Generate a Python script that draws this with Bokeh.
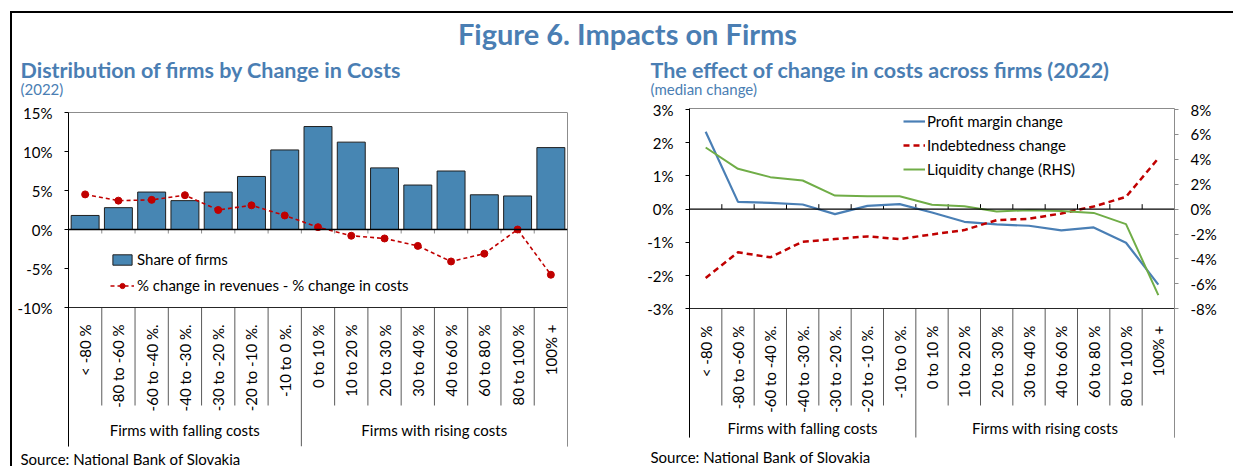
import math
from bokeh.plotting import figure
from bokeh.models import (ColumnDataSource, Range1d, LinearAxis, FixedTicker,
                          Legend, LegendItem, Label, Span)
from bokeh.layouts import column, row
from bokeh.embed import file_html
from bokeh.resources import INLINE
from bokeh.core.properties import value

# ---------------- data ----------------
categories = ["< -80 %", "-80 to -60 %", "-60 to -40 %.", "-40 to -30 %.", "-30 to -20 %.",
              "-20 to -10 %.", "-10 to 0 %.", "0 to 10 %", "10 to 20 %", "20 to 30 %",
              "30 to 40 %", "40 to 60 %", "60 to 80 %", "80 to 100 %", "100% +"]
groups = ["Firms with falling costs", "Firms with rising costs"]
group_sizes = [7, 8]

share_of_firms = [1.8, 2.8, 4.8, 3.7, 4.8, 6.8, 10.2, 13.2, 11.2, 7.9, 5.7, 7.5, 4.45, 4.3, 10.5]
rev_minus_cost = [4.5, 3.7, 3.8, 4.4, 2.5, 3.1, 1.8, 0.3, -0.8, -1.15, -2.1, -4.1, -3.1, 0.0, -5.8]

profit_margin = [2.33, 0.22, 0.19, 0.14, -0.15, 0.10, 0.15, -0.10, -0.38, -0.46, -0.50, -0.64, -0.55, -1.01, -2.27]
indebtedness = [-2.07, -1.30, -1.45, -0.98, -0.90, -0.82, -0.90, -0.76, -0.63, -0.33, -0.29, -0.13, 0.08, 0.37, 1.53]
liquidity = [4.95, 3.24, 2.57, 2.30, 1.09, 1.04, 1.04, 0.35, 0.24, -0.19, -0.08, -0.14, -0.30, -1.20, -6.90]

left_ticks = [-10, -5, 0, 5, 10, 15]
left_tick_labels = ["-10%", "-5%", "0%", "5%", "10%", "15%"]
right_ticks = [-3, -2, -1, 0, 1, 2, 3]
right_tick_labels = ["-3%", "-2%", "-1%", "0%", "1%", "2%", "3%"]
rhs_ticks = [-8, -6, -4, -2, 0, 2, 4, 6, 8]
rhs_tick_labels = ["-8%", "-6%", "-4%", "-2%", "0%", "2%", "4%", "6%", "8%"]

main_title = "Figure 6. Impacts on Firms"
left_title = "Distribution of firms by Change in Costs"
left_subtitle = "(2022)"
right_title = "The effect of change in costs across firms (2022)"
right_subtitle = "(median change)"
source_text = "Source: National Bank of Slovakia"
left_legend = ["Share of firms", "% change in revenues - % change in costs"]
right_legend = ["Profit margin change", "Indebtedness change", "Liquidity change (RHS)"]

# ---------------- style ----------------
FONT = "Lato"
TITLE_BLUE = "#4a7eb3"
BAR_BLUE = "#4786b3"
RED = "#c00000"
LINE_BLUE = "#4a7fb5"
GREEN = "#70ad47"
GRAY = "#8c8c8c"
SEP = "#5a5a5a"

n = len(categories)
bounds = list(range(n + 1))
group_edges = [0]
for s in group_sizes:
    group_edges.append(group_edges[-1] + s)
group_centers = [(a + b) / 2 for a, b in zip(group_edges[:-1], group_edges[1:])]
inner_bounds = [b for b in bounds if b not in group_edges]
tick_bounds = bounds[1:-1]

# page geometry (px from the page's top-left corner)
X0, Y0 = 12, 13            # content origin (inside the black border)
TOP_H = 85                 # title strip: y 13 -> 98
ROW_Y0 = Y0 + TOP_H        # 98
ROW_H = 360                # charts: y 98 -> 458
SRC_H = 20                 # source strip overlapping the blank bottom of the row
SRC_SHIFT = 12
FULL_W = 1221
# both chart frames share the same vertical extent (bokeh aligns frames in a row)
FRAME_TOP, FRAME_BOTTOM = 108, 446


def slabel(fig, fl, fb, x_px, y_px, text, size, color="black", bold=False, baseline="middle", align="left"):
    fig.add_layout(Label(x=x_px - fl, y=fb - y_px, x_units="screen", y_units="screen", text=text,
                         text_font=FONT, text_font_size=f"{size}px", text_color=color,
                         text_font_style="bold" if bold else "normal",
                         text_baseline=baseline, text_align=align))


def style_common(p):
    p.xgrid.grid_line_color = None
    p.ygrid.grid_line_color = None
    p.outline_line_color = None
    p.background_fill_color = "white"
    p.border_fill_color = "white"


def style_cat_axis(ax, loc):
    ax.fixed_location = loc
    ax.major_label_orientation = math.pi / 2
    ax.major_tick_line_color = None
    ax.minor_tick_line_color = None
    ax.major_label_standoff = 11
    ax.axis_line_color = "#262626"
    ax.major_label_text_font = FONT
    ax.major_label_text_font_size = "15px"
    ax.major_label_text_color = "black"


def style_y_axis(ax, ticks, labels, line_color="black", line_bounds=None):
    ax.ticker = FixedTicker(ticks=ticks)
    ax.major_label_overrides = {t: l for t, l in zip(ticks, labels)}
    ax.major_tick_out = 4
    ax.major_tick_in = 0
    ax.minor_tick_line_color = None
    ax.axis_line_color = line_color
    ax.major_tick_line_color = line_color
    ax.major_label_standoff = 12
    ax.major_label_text_font = FONT
    ax.major_label_text_font_size = "15px"
    ax.major_label_text_color = "black"
    if line_bounds is not None:
        ax.bounds = line_bounds


def border_axis(p, side, line_bounds=None, **kw):
    ax = LinearAxis(ticker=FixedTicker(ticks=[]), **kw)
    ax.axis_line_color = GRAY
    ax.major_tick_line_color = None
    ax.minor_tick_line_color = None
    ax.major_tick_out = 0
    ax.major_label_standoff = 0
    ax.major_label_text_color = None
    if line_bounds is not None:
        ax.bounds = line_bounds
    p.add_layout(ax, side)


def strip(height, **kw):
    p = figure(width=FULL_W, height=height, x_range=(0, 1), y_range=(0, 1), min_border=0,
               x_axis_location=None, y_axis_location=None, toolbar_location=None, output_backend="svg", **kw)
    style_common(p)
    return p


# ---------------- title strip ----------------
pt = strip(TOP_H)
slabel(pt, X0, ROW_Y0, 627, 33, main_title, 29, TITLE_BLUE, bold=True, align="center")
slabel(pt, X0, ROW_Y0, 20, 69, left_title, 21.5, TITLE_BLUE, bold=True)
slabel(pt, X0, ROW_Y0, 20, 88, left_subtitle, 15, TITLE_BLUE)
slabel(pt, X0, ROW_Y0, 650, 69, right_title, 21.5, TITLE_BLUE, bold=True)
slabel(pt, X0, ROW_Y0, 650, 88, right_subtitle, 15, TITLE_BLUE)

# ---------------- left chart ----------------
LX0, LW = X0, 620
LF = dict(left=68, right=567)
l_ppu, l_top_val, l_top_px = 7.8, 15, 112


def lval(px):
    return l_top_val - (px - l_top_px) / l_ppu


pl = figure(width=LW, height=ROW_H, x_range=categories, y_range=Range1d(lval(FRAME_BOTTOM), lval(FRAME_TOP)),
            min_border_left=LF["left"] - LX0, min_border_right=LX0 + LW - LF["right"],
            min_border_top=FRAME_TOP - ROW_Y0, min_border_bottom=ROW_Y0 + ROW_H - FRAME_BOTTOM,
            toolbar_location=None, output_backend="svg")
style_common(pl)
style_cat_axis(pl.xaxis[0], left_ticks[0])
style_y_axis(pl.yaxis[0], left_ticks, left_tick_labels, line_bounds=(lval(FRAME_BOTTOM), left_ticks[-1]))
border_axis(pl, "right", line_bounds=(lval(FRAME_BOTTOM), left_ticks[-1]))

src_l = ColumnDataSource(dict(cat=categories, share=share_of_firms, diff=rev_minus_cost))
# top edge of the plot box
pl.segment(x0=[bounds[0]], x1=[bounds[-1]], y0=[left_ticks[-1]], y1=[left_ticks[-1]], line_color=GRAY, line_width=1)
bars = pl.vbar(x="cat", top="share", width=0.84, source=src_l, fill_color=BAR_BLUE,
               line_color="#1f1f1f", line_width=1)
pl.add_layout(Span(location=0, dimension="width", line_color="black", line_width=1.5))
pl.segment(x0=tick_bounds, x1=tick_bounds, y0=[0] * len(tick_bounds), y1=[-4 / l_ppu] * len(tick_bounds),
           line_color=GRAY, line_width=1)
pl.segment(x0=inner_bounds, x1=inner_bounds, y0=[left_ticks[0]] * len(inner_bounds),
           y1=[lval(405)] * len(inner_bounds), line_color=SEP, line_width=1)
pl.segment(x0=group_edges, x1=group_edges, y0=[left_ticks[0]] * len(group_edges),
           y1=[lval(FRAME_BOTTOM)] * len(group_edges), line_color=SEP, line_width=1)
rl = pl.line(x="cat", y="diff", source=src_l, line_color=RED, line_width=1.6, line_dash="4 3")
rs = pl.scatter(x="cat", y="diff", source=src_l, size=7, fill_color=RED, line_color=RED)
pl.text(x=group_centers, y=[lval(429)] * len(groups), text=groups, text_font=value(FONT),
        text_font_size="15px", text_align="center", text_baseline="middle", text_color="black")

leg_l = Legend(items=[LegendItem(label=left_legend[0], renderers=[bars]),
                      LegendItem(label=left_legend[1], renderers=[rl, rs])],
               location=(110 - LF["left"], FRAME_BOTTOM - 295), orientation="vertical",
               border_line_color=None, background_fill_alpha=0, padding=0, margin=0, spacing=6,
               glyph_width=24, glyph_height=13, label_height=20, label_standoff=3,
               label_text_font=FONT, label_text_font_size="15px", label_text_color="black")
pl.add_layout(leg_l)

# ---------------- right chart ----------------
RX0 = LX0 + LW
RW = FULL_W - LW
RF = dict(left=689, right=1174)
r_ppu, r_top_val, r_top_px = 33.22, 3, 109
rhs_ppu, rhs_top_val = 12.456, 8


def rval(px):
    return r_top_val - (px - r_top_px) / r_ppu


def rhsval(px):
    return rhs_top_val - (px - r_top_px) / rhs_ppu


pr = figure(width=RW, height=ROW_H, x_range=categories, y_range=Range1d(rval(FRAME_BOTTOM), rval(FRAME_TOP)),
            min_border_left=RF["left"] - RX0, min_border_right=RX0 + RW - RF["right"],
            min_border_top=FRAME_TOP - ROW_Y0, min_border_bottom=ROW_Y0 + ROW_H - FRAME_BOTTOM,
            toolbar_location=None, output_backend="svg")
style_common(pr)
pr.extra_y_ranges = {"rhs": Range1d(rhsval(FRAME_BOTTOM), rhsval(FRAME_TOP))}
style_cat_axis(pr.xaxis[0], right_ticks[0])
style_y_axis(pr.yaxis[0], right_ticks, right_tick_labels, line_bounds=(rval(437), rval(FRAME_TOP)))
rax = LinearAxis(y_range_name="rhs")
style_y_axis(rax, rhs_ticks, rhs_tick_labels, line_color=GRAY, line_bounds=(rhsval(437), rhsval(FRAME_TOP)))
pr.add_layout(rax, "right")
border_axis(pr, "above")

src_r = ColumnDataSource(dict(cat=categories, pm=profit_margin, ind=indebtedness, liq=liquidity))
pr.add_layout(Span(location=0, dimension="width", line_color="black", line_width=1.2))
pr.segment(x0=tick_bounds, x1=tick_bounds, y0=[0] * len(tick_bounds), y1=[5 / r_ppu] * len(tick_bounds),
           line_color="black", line_width=1)
pr.segment(x0=inner_bounds, x1=inner_bounds, y0=[right_ticks[0]] * len(inner_bounds),
           y1=[rval(405)] * len(inner_bounds), line_color=SEP, line_width=1)
pr.segment(x0=group_edges, x1=group_edges, y0=[right_ticks[0]] * len(group_edges),
           y1=[rval(437)] * len(group_edges), line_color=SEP, line_width=1)
l1 = pr.line(x="cat", y="pm", source=src_r, line_color=LINE_BLUE, line_width=2.2)
l2 = pr.line(x="cat", y="ind", source=src_r, line_color=RED, line_width=2.5, line_dash="6 4")
l3 = pr.line(x="cat", y="liq", source=src_r, line_color=GREEN, line_width=2, y_range_name="rhs")
pr.text(x=group_centers, y=[rval(427)] * len(groups), text=groups, text_font=value(FONT),
        text_font_size="15px", text_align="center", text_baseline="middle", text_color="black")

leg_r = Legend(items=[LegendItem(label=right_legend[0], renderers=[l1]),
                      LegendItem(label=right_legend[1], renderers=[l2]),
                      LegendItem(label=right_legend[2], renderers=[l3])],
               location=(903 - RF["left"], FRAME_BOTTOM - 179), orientation="vertical",
               border_line_color=None, background_fill_alpha=0, padding=0, margin=0, spacing=4,
               glyph_width=22, glyph_height=20, label_height=20, label_standoff=2,
               label_text_font=FONT, label_text_font_size="15px", label_text_color="black")
pr.add_layout(leg_r)

# ---------------- source strip (overlaps the blank bottom border of the charts) ----------------
SRC_Y0 = ROW_Y0 + ROW_H - SRC_SHIFT
ps = strip(SRC_H, margin=(-SRC_SHIFT, 0, 0, 0))
ps.background_fill_alpha = 0
ps.border_fill_alpha = 0
slabel(ps, X0, SRC_Y0 + SRC_H, 20, 458, source_text, 15, "black")
slabel(ps, X0, SRC_Y0 + SRC_H, 650, 456, source_text, 15, "black")

layout = column(pt, row(pl, pr), ps,
                styles={"border-top": "2px solid black", "border-left": "2px solid black",
                        "margin-left": "10px", "margin-top": "11px"})

open("out.html", "w").write(file_html(layout, INLINE))
